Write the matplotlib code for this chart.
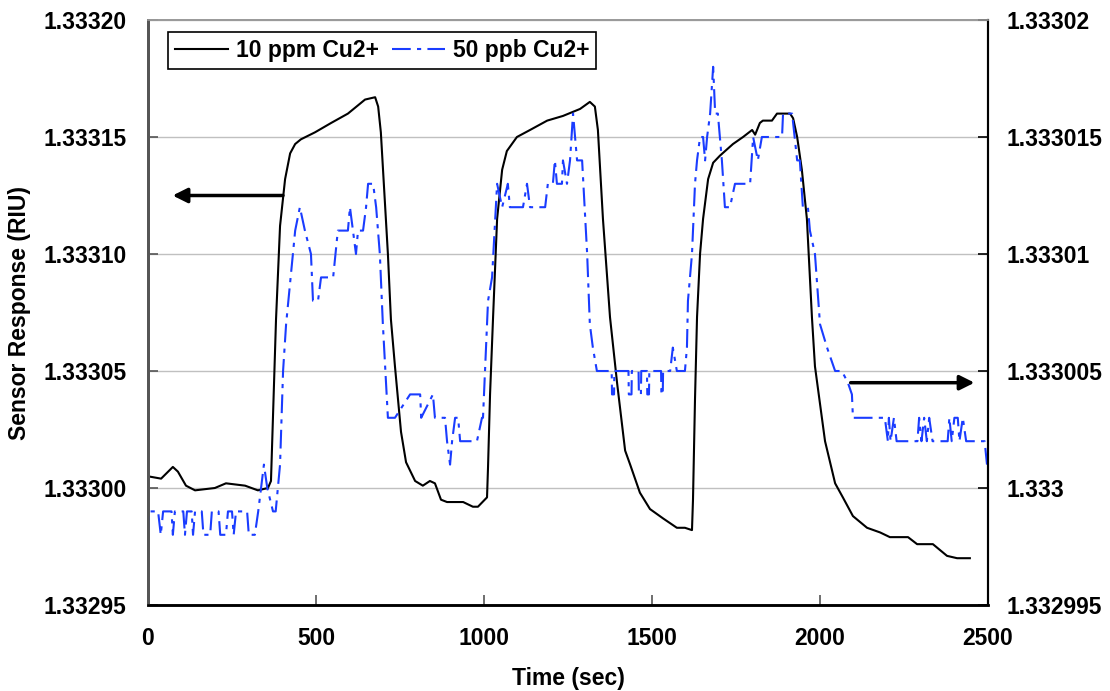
import numpy as np
import matplotlib
matplotlib.use('Agg')
import matplotlib.pyplot as plt
from matplotlib.ticker import FixedLocator, FixedFormatter, FormatStrFormatter

plt.rcParams['font.family'] = ['Liberation Sans', 'DejaVu Sans']
plt.rcParams['font.weight'] = 'bold'

# 10 ppm Cu2+ (left axis)
time_10ppm = [0, 39, 74, 89, 113, 140, 199, 232, 289, 327, 357, 366, 381, 393, 408, 423,
              438, 455, 497, 545, 595, 646, 676, 685, 693, 714, 723, 735, 753, 768, 795,
              818, 839, 854, 872, 890, 938, 967, 982, 1009, 1012, 1018, 1027, 1039, 1054,
              1068, 1098, 1137, 1188, 1235, 1286, 1315, 1330, 1339, 1354, 1375, 1396, 1420,
              1435, 1464, 1494, 1533, 1574, 1598, 1619, 1622, 1628, 1634, 1643, 1652, 1667,
              1682, 1702, 1741, 1771, 1798, 1807, 1821, 1830, 1857, 1872, 1911, 1920, 1932,
              1946, 1961, 1976, 1985, 2015, 2045, 2068, 2098, 2140, 2179, 2208, 2262, 2289,
              2336, 2378, 2408, 2446]
resp_10ppm = [1.333005, 1.333004, 1.333009, 1.333007, 1.333001, 1.332999, 1.333000, 1.333002,
              1.333001, 1.332999, 1.333000, 1.333003, 1.333072, 1.333112, 1.333132, 1.333143,
              1.333147, 1.333149, 1.333152, 1.333156, 1.333160, 1.333166, 1.333167, 1.333163,
              1.333152, 1.333100, 1.333072, 1.333052, 1.333024, 1.333011, 1.333003, 1.333001,
              1.333003, 1.333002, 1.332995, 1.332994, 1.332994, 1.332992, 1.332992, 1.332996,
              1.333009, 1.333040, 1.333073, 1.333115, 1.333136, 1.333144, 1.333150, 1.333153,
              1.333157, 1.333159, 1.333162, 1.333165, 1.333163, 1.333153, 1.333115, 1.333073,
              1.333045, 1.333016, 1.333010, 1.332998, 1.332991, 1.332987, 1.332983, 1.332983,
              1.332982, 1.332995, 1.333038, 1.333073, 1.333100, 1.333115, 1.333132, 1.333139,
              1.333142, 1.333147, 1.333150, 1.333153, 1.333151, 1.333156, 1.333157, 1.333157,
              1.333160, 1.333160, 1.333158, 1.333150, 1.333136, 1.333115, 1.333073, 1.333052,
              1.333020, 1.333002, 1.332996, 1.332988, 1.332983, 1.332981, 1.332979, 1.332979,
              1.332976, 1.332976, 1.332971, 1.332970, 1.332970]

# 50 ppb Cu2+ (right axis)
time_50ppb = [0, 3, 30, 38, 45, 70, 74, 80, 105, 110, 116, 130, 134, 140, 160, 165, 185, 190,
              210, 215, 232, 238, 250, 255, 262, 295, 300, 318, 328, 345, 355, 372, 380, 393,
              402, 411, 438, 452, 467, 485, 491, 506, 515, 551, 565, 595, 601, 610, 619, 625,
              640, 649, 655, 670, 679, 690, 699, 714, 735, 780, 810, 813, 848, 854, 884, 890,
              899, 905, 914, 923, 929, 949, 979, 994, 997, 1003, 1012, 1024, 1039, 1054, 1071,
              1077, 1116, 1128, 1137, 1182, 1190, 1205, 1211, 1217, 1232, 1235, 1247, 1256,
              1265, 1271, 1277, 1292, 1307, 1315, 1324, 1336, 1380, 1381, 1387, 1388, 1430,
              1431, 1439, 1440, 1460, 1461, 1467, 1468, 1485, 1486, 1491, 1492, 1527, 1528,
              1532, 1533, 1554, 1562, 1574, 1598, 1604, 1607, 1619, 1628, 1634, 1643, 1652,
              1658, 1664, 1673, 1682, 1688, 1696, 1702, 1708, 1717, 1732, 1747, 1792, 1801,
              1815, 1827, 1887, 1890, 1917, 1932, 1940, 1949, 1964, 1970, 1985, 2000, 2021,
              2045, 2065, 2083, 2095, 2098, 2193, 2202, 2205, 2210, 2220, 2228, 2290, 2295,
              2302, 2310, 2318, 2325, 2335, 2380, 2385, 2392, 2400, 2410, 2415, 2425, 2435,
              2490, 2497]
resp_50ppb = [1.332998, 1.332999, 1.332999, 1.332998, 1.332999, 1.332999, 1.332998, 1.332999,
              1.332999, 1.332998, 1.332999, 1.332999, 1.332998, 1.332999, 1.332999, 1.332998,
              1.332998, 1.332999, 1.332999, 1.332998, 1.332998, 1.332999, 1.332999, 1.332998,
              1.332999, 1.332999, 1.332998, 1.332998, 1.332999, 1.333001, 1.333000, 1.332999,
              1.332999, 1.333001, 1.333005, 1.333007, 1.333011, 1.333012, 1.333011, 1.333010,
              1.333008, 1.333008, 1.333009, 1.333009, 1.333011, 1.333011, 1.333012, 1.333011,
              1.333010, 1.333011, 1.333011, 1.333012, 1.333013, 1.333013, 1.333012, 1.333010,
              1.333007, 1.333003, 1.333003, 1.333004, 1.333004, 1.333003, 1.333004, 1.333003,
              1.333003, 1.333002, 1.333001, 1.333002, 1.333003, 1.333003, 1.333002, 1.333002,
              1.333002, 1.333003, 1.333003, 1.333005, 1.333008, 1.333009, 1.333013, 1.333012,
              1.333013, 1.333012, 1.333012, 1.333013, 1.333012, 1.333012, 1.333013, 1.333013,
              1.333014, 1.333013, 1.333013, 1.333014, 1.333013, 1.333014, 1.333016, 1.333015,
              1.333014, 1.333014, 1.333010, 1.333007, 1.333006, 1.333005, 1.333005, 1.333004,
              1.333004, 1.333005, 1.333005, 1.333004, 1.333004, 1.333005, 1.333005, 1.333004,
              1.333004, 1.333005, 1.333005, 1.333004, 1.333004, 1.333005, 1.333005, 1.333004,
              1.333004, 1.333005, 1.333005, 1.333006, 1.333005, 1.333005, 1.333006, 1.333008,
              1.333010, 1.333013, 1.333014, 1.333015, 1.333015, 1.333014, 1.333015, 1.333016,
              1.333018, 1.333016, 1.333016, 1.333015, 1.333014, 1.333012, 1.333012, 1.333013,
              1.333013, 1.333015, 1.333014, 1.333015, 1.333015, 1.333016, 1.333016, 1.333014,
              1.333014, 1.333012, 1.333012, 1.333011, 1.333010, 1.333007, 1.333006, 1.333005,
              1.333005, 1.3330045, 1.333004, 1.333003, 1.333003, 1.333002, 1.333003, 1.333002,
              1.333003, 1.333002, 1.333002, 1.333003, 1.333002, 1.333003, 1.333002, 1.333003,
              1.333002, 1.333002, 1.333003, 1.333002, 1.333003, 1.333003, 1.333002, 1.333003,
              1.333002, 1.333002, 1.333001]

x_ticks = [0, 500, 1000, 1500, 2000, 2500]
left_ticks = [1.33295, 1.33300, 1.33305, 1.33310, 1.33315, 1.33320]
right_ticks = [1.332995, 1.333, 1.333005, 1.33301, 1.333015, 1.33302]
right_labels = ['1.332995', '1.333', '1.333005', '1.33301', '1.333015', '1.33302']

FS = 16.5

fig = plt.figure(figsize=(11.1, 6.91), dpi=100)
ax = fig.add_axes([148 / 1110, 1 - 605 / 691, 840 / 1110, 585 / 691])
ax2 = ax.twinx()

line1, = ax.plot(time_10ppm, resp_10ppm, color='black', lw=1.5, label='10 ppm Cu2+')
line2, = ax2.plot(time_50ppb, resp_50ppb, color='#1a3cff', lw=1.5,
                  linestyle=(0, (9, 3, 2, 3)), label='50 ppb Cu2+')

ax.set_xlim(0, 2500)
ax.set_ylim(left_ticks[0], left_ticks[-1])
ax2.set_ylim(right_ticks[0], right_ticks[-1])

ax.xaxis.set_major_locator(FixedLocator(x_ticks))
ax.yaxis.set_major_locator(FixedLocator(left_ticks))
ax.yaxis.set_major_formatter(FormatStrFormatter('%.5f'))
ax2.yaxis.set_major_locator(FixedLocator(right_ticks))
ax2.yaxis.set_major_formatter(FixedFormatter(right_labels))

ax.grid(axis='y', color='#c0c0c0', lw=1)
ax.set_axisbelow(True)

ax.tick_params(axis='x', direction='in', length=7, width=1.2, pad=16, labelsize=FS, colors='#555555', labelcolor='black')
ax.tick_params(axis='y', direction='in', length=7, width=1.2, pad=15.5, labelsize=FS, colors='#555555', labelcolor='black')
ax2.tick_params(axis='y', direction='in', length=7, width=1.2, pad=13, labelsize=FS, labelcolor='black')
for lab in ax.get_xticklabels() + ax.get_yticklabels() + ax2.get_yticklabels():
    lab.set_fontweight('bold')

for a in (ax, ax2):
    a.spines['top'].set_color('#999999')
    a.spines['top'].set_linewidth(1.2)
    a.spines['left'].set_color('#555555')
    a.spines['left'].set_linewidth(2)
    a.spines['bottom'].set_color('black')
    a.spines['bottom'].set_linewidth(1.8)
    a.spines['right'].set_color('black')
    a.spines['right'].set_linewidth(1.5)

ax.set_xlabel('Time (sec)', fontsize=FS, fontweight='bold', labelpad=12)
ax.set_ylabel('Sensor Response (RIU)', fontsize=FS, fontweight='bold', labelpad=9)

# arrows pointing to the matching axis
ax.annotate('', xy=(65, 1.333125), xytext=(410, 1.333125),
            arrowprops=dict(arrowstyle='-|>', color='black', lw=2.5, mutation_scale=22))
ax2.annotate('', xy=(2468, 1.3330045), xytext=(2083, 1.3330045),
             arrowprops=dict(arrowstyle='-|>', color='black', lw=2.5, mutation_scale=22))

leg = ax2.legend(handles=[line1, line2], loc='upper left', ncol=2,
                 prop={'weight': 'bold', 'size': FS}, frameon=True, fancybox=False,
                 edgecolor='black', framealpha=1, handlelength=2.3, handletextpad=0.35,
                 columnspacing=0.6, borderpad=0.3, borderaxespad=0,
                 bbox_to_anchor=(0.024, 0.979))
leg.get_frame().set_linewidth(1.2)

fig.savefig('out.png', dpi=100)
